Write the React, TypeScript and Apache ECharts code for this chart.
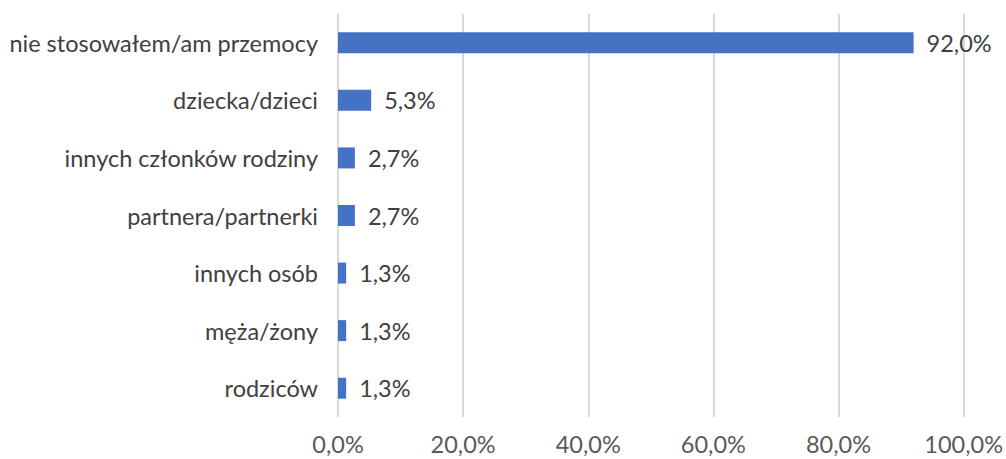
import React, { useEffect, useRef } from "react";
import * as echarts from "echarts";

const categories = [
  "nie stosowałem/am przemocy",
  "dziecka/dzieci",
  "innych członków rodziny",
  "partnera/partnerki",
  "innych osób",
  "męża/żony",
  "rodziców",
];
const values = [92.0, 5.3, 2.7, 2.7, 1.3, 1.3, 1.3];

const fmt = (v: number) => v.toFixed(1).replace(".", ",") + "%";

export default function App() {
  const ref = useRef<HTMLDivElement>(null);
  useEffect(() => {
    if (!ref.current) return;
    const chart = echarts.init(ref.current, undefined, { renderer: "svg" });
    const font = "Lato, 'Open Sans', sans-serif";
    chart.setOption({
      animation: false,
      grid: { left: 338, right: 40, top: 14, bottom: 42, containLabel: false },
      xAxis: {
        type: "value",
        min: 0,
        max: 100,
        interval: 20,
        axisLine: { show: false },
        axisTick: { show: false },
        splitLine: { show: true, lineStyle: { color: "#d9d9d9", width: 2 } },
        axisLabel: {
          formatter: (v: number) => fmt(v),
          color: "#595959",
          fontSize: 23.5,
          fontFamily: font,
          margin: 15,
        },
      },
      yAxis: {
        type: "category",
        data: categories.slice().reverse(),
        axisLine: { show: false },
        axisTick: { show: false },
        splitLine: { show: false },
        axisLabel: {
          color: "#404040",
          fontSize: 23.5,
          fontFamily: font,
          margin: 20,
        },
      },
      series: [
        {
          type: "bar",
          data: values.slice().reverse(),
          barWidth: 21,
          itemStyle: { color: "#4472c4" },
          label: {
            show: true,
            position: "right",
            distance: 13,
            formatter: (p: any) => fmt(p.value),
            color: "#404040",
            fontSize: 23.5,
            fontFamily: font,
          },
        },
      ],
    });
    return () => chart.dispose();
  }, []);
  return <div ref={ref} style={{ width: 1006, height: 459, position: "absolute", left: 0, top: 0, background: "#fff" }} />;
}
